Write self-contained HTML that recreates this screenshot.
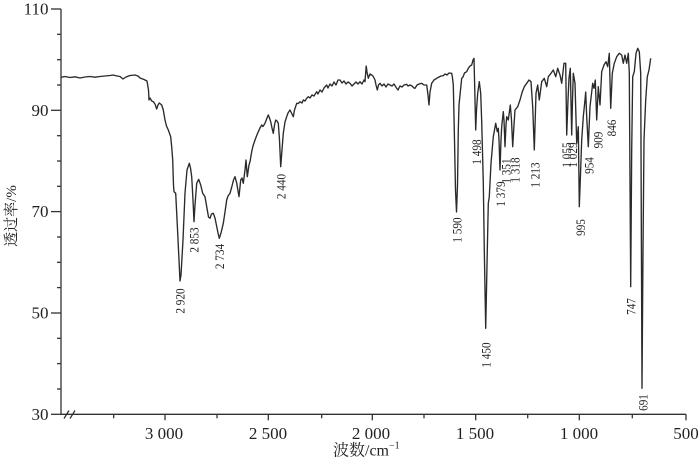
<!DOCTYPE html>
<html><head><meta charset="utf-8"><style>
html,body{margin:0;padding:0;background:#fff;}
svg{display:block;}
text{font-family:"Liberation Serif","Noto Serif CJK SC",serif;fill:#222;}
</style></head><body>
<svg width="700" height="461" viewBox="0 0 700 461" xmlns="http://www.w3.org/2000/svg">
<g stroke="#333" stroke-width="1.3" fill="none">
<line x1="61" y1="9" x2="61" y2="414.3"/>
<line x1="61" y1="414.3" x2="686" y2="414.3"/>
<line x1="51" y1="9" x2="61" y2="9"/>
<line x1="51" y1="110.3" x2="61" y2="110.3"/>
<line x1="51" y1="211.6" x2="61" y2="211.6"/>
<line x1="51" y1="313" x2="61" y2="313"/>
<line x1="51" y1="414.3" x2="61" y2="414.3"/>
<line x1="57" y1="34.3" x2="61" y2="34.3"/>
<line x1="57" y1="59.7" x2="61" y2="59.7"/>
<line x1="57" y1="85" x2="61" y2="85"/>
<line x1="57" y1="135.7" x2="61" y2="135.7"/>
<line x1="57" y1="161" x2="61" y2="161"/>
<line x1="57" y1="186.3" x2="61" y2="186.3"/>
<line x1="57" y1="237" x2="61" y2="237"/>
<line x1="57" y1="262.3" x2="61" y2="262.3"/>
<line x1="57" y1="287.6" x2="61" y2="287.6"/>
<line x1="57" y1="338.3" x2="61" y2="338.3"/>
<line x1="57" y1="363.6" x2="61" y2="363.6"/>
<line x1="57" y1="389" x2="61" y2="389"/>
<line x1="113.7" y1="414.3" x2="113.7" y2="418.3"/>
<line x1="165" y1="414.3" x2="165" y2="420.3"/>
<line x1="217" y1="414.3" x2="217" y2="418.3"/>
<line x1="268.3" y1="414.3" x2="268.3" y2="420.3"/>
<line x1="321.7" y1="414.3" x2="321.7" y2="418.3"/>
<line x1="372.3" y1="414.3" x2="372.3" y2="420.3"/>
<line x1="424" y1="414.3" x2="424" y2="418.3"/>
<line x1="475.7" y1="414.3" x2="475.7" y2="420.3"/>
<line x1="527.7" y1="414.3" x2="527.7" y2="418.3"/>
<line x1="579.3" y1="414.3" x2="579.3" y2="420.3"/>
<line x1="632.3" y1="414.3" x2="632.3" y2="418.3"/>
<line x1="686" y1="414.3" x2="686" y2="420.3"/>
<line x1="64" y1="418.5" x2="69" y2="410.5"/>
<line x1="70" y1="418.5" x2="75" y2="410.5"/>
</g>
<g font-size="17" text-anchor="end">
<text x="48.5" y="14.6">110</text>
<text x="48.5" y="115.9">90</text>
<text x="48.5" y="217.2">70</text>
<text x="48.5" y="318.6">50</text>
<text x="48.5" y="419.9">30</text>
</g>
<g font-size="17" text-anchor="middle">
<text x="164" y="439">3 000</text>
<text x="268" y="439">2 500</text>
<text x="371" y="439">2 000</text>
<text x="475" y="439">1 500</text>
<text x="579" y="439">1 000</text>
<text x="686" y="439">500</text>
</g>
<text x="333" y="455.5" font-size="16">波数/cm<tspan font-size="10" dy="-7">−1</tspan></text>
<text transform="translate(10.5,216) rotate(-90)" text-anchor="middle" dy="0.35em" font-size="15">透过率/%</text>
<polyline fill="none" stroke="#2a2a2a" stroke-width="1.35" stroke-linejoin="round" points="61,77.3 65,76.5 70,77.5 75,76.8 80,78 85,77 90,76.5 95,77.2 100,76.5 105,76 110,75.5 113,75 117,76 120,76.5 123,79 126,77 130,75.5 135,75 138,76 140,78 144,79.5 147,81 148.5,90 149,100 150,98 151.7,101 153.3,101.7 155,104 156.7,109 158,105 159.3,103 161.7,105 163.3,110 165,120 166.5,126 168.3,130 170.7,136.7 171.7,147 172.7,160 173.5,185 174,191.7 175.7,193.3 177.7,233 180,281 181,275 183,240 185,193 187,170 189.3,163.3 190.5,168 191.7,176.7 193,200 194,221.7 195,205 196.7,183.3 198.7,179.3 200.7,185 202.7,193.3 205,196.7 207.3,210 208.5,217 210,218.3 211.5,214 213.3,213.3 215,218 216,223 218,233 219.3,238.3 221,233 223.3,223.3 225,212 226.7,200 228,196 230,193.3 232,186 233.5,180 235,176.7 236.7,183 239,196.7 240.7,180 242,178 243.3,183.3 245,170 246,160 247.3,176.7 249,165 250,161.7 251.7,151.7 253,146 255,140 256.5,136 258.3,131.7 260,128 261.7,125 263,126.5 265,123.3 267,118 268.3,115 269.5,118 270.7,121.7 272,128 273.3,133.3 274.5,125 275.7,120 277,121 278.3,123.3 279.5,140 280.7,166.7 282,150 283.3,133.3 285,122 286.7,116.7 288,113 290,110 291.5,113 293.3,116.7 294.5,110 296.7,103.3 298.3,103.5 300,101.7 302,103 303.3,100 305,101 306.7,98.3 308.3,96.7 310,98 312,95 314,96 316.7,91.7 318,94 320,90 322,92 324,88 326.7,85 328,88 330,84 332,86 334,82 336,85 338,80 340,80 342,83 344,81 346,84 348,82 350,83.3 352,86 354,84 356,82 358,84 360,81.7 362,84 364,80 365,81.7 366.2,66 367,72 368.3,78.3 370,74 371.7,75 373,76 375,80 376,85 377.3,90 378.5,85 380,83.3 382,86 384,84 386,87 388,84 390,85 392,86 394,84 396.7,88.3 398,90 400,86 402,87 404,85 406.7,84.3 408,86 410,85 412,86 414,88 415,88.3 417,85 419,84 421.7,83.3 424,85 426.7,85 428,95 429,105 430,92 431.7,83.3 434,80 436.7,78.3 439,77 441,76 443.3,75.7 445,74 447,75 449,73 451.7,73.3 452.5,78 453.3,85 454.5,140 455.5,190 456.5,212 457.5,185 458.3,130 459,105 460,95 461.7,78.3 463,77 464.5,73 466.7,71.7 468.3,68.3 470,66 471.7,65 473,60 474,58.3 475,100 475.7,130 476.5,110 477.7,93.3 479.3,81.7 480.7,93.3 481.7,121.7 483.3,183 484.3,250 485.7,328.3 486.5,290 487.3,250 488.3,203.3 489.3,196.7 491,163.3 493.3,136.7 495.7,123.3 497.3,131.7 498.3,128.3 499,140 500,170 501,140 501.7,126.7 503.3,111.7 504,120 505,146.7 506,125 506.7,116.7 508.3,120 510.3,105 511.5,120 512.7,146.7 514,125 515,110 517.7,106.7 520,100 522.3,91.7 524.3,86.7 526.7,83.3 529,80 531,81.7 532.7,106.7 534.3,150 535.2,120 536,93.3 537.7,85 539.3,100 541.7,81.7 544.3,78.3 546.7,86.7 548.3,76.7 551,73.3 553.3,70 555.7,76.7 557.7,68.3 560,75 561.7,83.3 564,63.3 565.7,63.3 566.7,135 568,100 569,78.3 570.3,68.3 571.7,135 572.5,100 573.3,73.3 575,83.3 576.7,143.3 578.3,126.7 579.3,206.7 580.3,180 581.7,140 583.3,116.7 585,100 585.7,92 586.7,116.7 588.3,146.7 589.2,125 590,106.7 592.7,83.3 594,88.3 595.3,80 596.7,120 598.3,86.7 600,105 601.7,71.7 604,65 606,61.7 607.7,66.7 609.3,53.3 610.7,108.3 612.3,73.3 614.3,63.3 616.7,56.7 619.3,53.3 621.7,55 623.3,63.3 625,55 626.7,63.3 628.3,53.3 629.3,73.3 630.7,286.7 631.7,150 632.7,76.7 634.3,71.7 636,53.3 637.7,48.3 639.3,51.7 640.7,73.3 642,388.3 643,250 644,140 645.7,100 647.3,76.7 649,70 650.7,58.3"/>
<g font-size="13" text-anchor="middle">
<text transform="translate(180,301) rotate(-90) scale(0.86,1)" dy="0.33em">2 920</text>
<text transform="translate(194,240) rotate(-90) scale(0.86,1)" dy="0.33em">2 853</text>
<text transform="translate(219.5,256.5) rotate(-90) scale(0.86,1)" dy="0.33em">2 734</text>
<text transform="translate(281,186.5) rotate(-90) scale(0.86,1)" dy="0.33em">2 440</text>
<text transform="translate(457,230) rotate(-90) scale(0.86,1)" dy="0.33em">1 590</text>
<text transform="translate(476.5,152) rotate(-90) scale(0.86,1)" dy="0.33em">1 498</text>
<text transform="translate(486,355) rotate(-90) scale(0.86,1)" dy="0.33em">1 450</text>
<text transform="translate(500.5,194) rotate(-90) scale(0.86,1)" dy="0.33em">1 379</text>
<text transform="translate(506,171) rotate(-90) scale(0.86,1)" dy="0.33em">1 351</text>
<text transform="translate(515,170) rotate(-90) scale(0.86,1)" dy="0.33em">1 318</text>
<text transform="translate(535,175) rotate(-90) scale(0.86,1)" dy="0.33em">1 213</text>
<text transform="translate(566.7,155) rotate(-90) scale(0.86,1)" dy="0.33em">1 055</text>
<text transform="translate(572.7,155) rotate(-90) scale(0.86,1)" dy="0.33em">1 029</text>
<text transform="translate(580.7,227.5) rotate(-90) scale(0.86,1)" dy="0.33em">995</text>
<text transform="translate(589,165.5) rotate(-90) scale(0.86,1)" dy="0.33em">954</text>
<text transform="translate(598.3,140) rotate(-90) scale(0.86,1)" dy="0.33em">909</text>
<text transform="translate(611.7,128) rotate(-90) scale(0.86,1)" dy="0.33em">846</text>
<text transform="translate(631,306.5) rotate(-90) scale(0.86,1)" dy="0.33em">747</text>
<text transform="translate(643,402.5) rotate(-90) scale(0.86,1)" dy="0.33em">691</text>
</g>
</svg>
</body></html>
